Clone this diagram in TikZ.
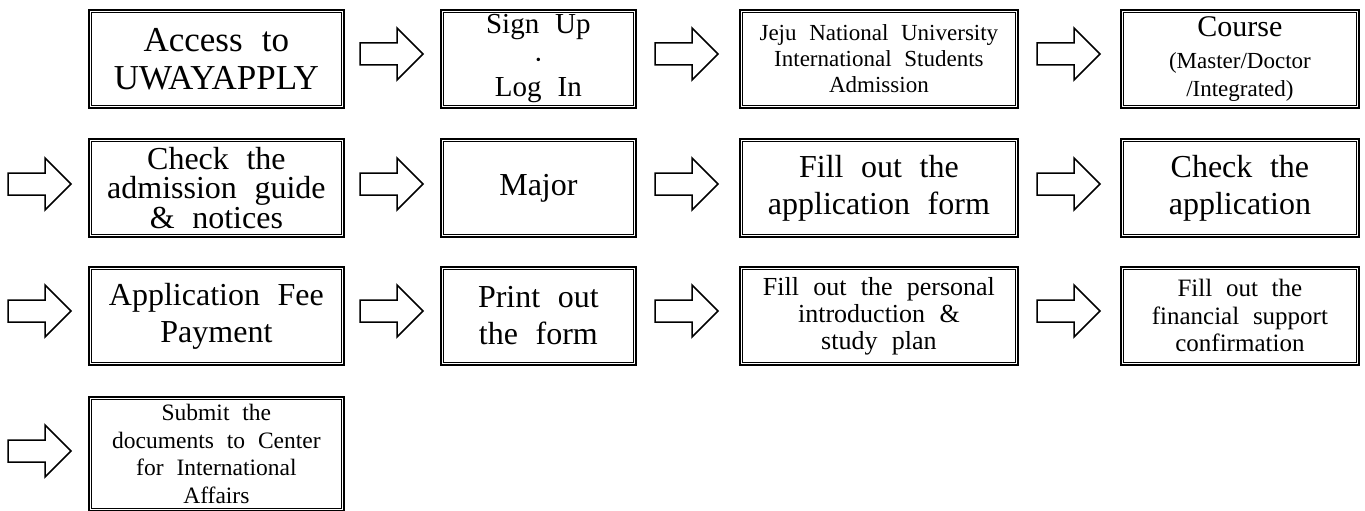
\documentclass[tikz,border=0pt]{standalone}
\usepackage{fontspec}
\setmainfont[WordSpace=2.2]{Liberation Serif}

\tikzset{
  stepbox/.style={draw, line width=1.8pt, inner sep=0pt, align=center, anchor=north west, minimum height=98pt},
  fat arrow/.pic={\draw[line width=1.5pt, line join=miter] (0,-11) -- (37,-11) -- (37,-26) -- (63,0) -- (37,26) -- (37,11) -- (0,11) -- cycle;}
}

\begin{document}
\begin{tikzpicture}[x=1pt, y=-1pt]
      \useasboundingbox (0,0) rectangle (1365,511);
      % row 1
      \node[stepbox, minimum width=255pt, font=\fontsize{35}{38}\selectfont] (b1) at (88,9) {Access to\\UWAYAPPLY};
      \node[stepbox, minimum width=195pt, font=\fontsize{29}{30}\selectfont] (b2) at (440,9) {Sign Up\\\smash{\raisebox{-6pt}{·}}\\[3pt]Log In};
      \node[stepbox, minimum width=278pt, font=\fontsize{23}{26}\selectfont] (b3) at (739,9) {Jeju National University\\International Students\\Admission};
      \node[stepbox, minimum width=238pt, font=\fontsize{23}{28}\selectfont] (b4) at (1120,9) {{\fontsize{30}{30}\selectfont Course}\\[4pt](Master/Doctor\\/Integrated)};
      % row 2
      \node[stepbox, minimum width=255pt, font=\fontsize{32}{29.5}\selectfont] (b5) at (88,138) {Check the\\admission guide\\\& notices};
      \node[stepbox, minimum width=195pt, font=\fontsize{32}{37}\selectfont] (b6) at (440,138) {Major};
      \node[stepbox, minimum width=278pt, font=\fontsize{32}{37}\selectfont] (b7) at (739,138) {Fill out the\\application form};
      \node[stepbox, minimum width=238pt, font=\fontsize{32}{37}\selectfont] (b8) at (1120,138) {Check the\\application};
      % row 3
      \node[stepbox, minimum width=255pt, font=\fontsize{32}{37}\selectfont] (b9) at (88,266) {Application Fee\\Payment};
      \node[stepbox, minimum width=195pt, font=\fontsize{32}{37}\selectfont] (b10) at (440,266) {Print out\\the form};
      \node[stepbox, minimum width=278pt, font=\fontsize{26}{27}\selectfont] (b11) at (739,266) {Fill out the personal\\introduction \&\\study plan};
      \node[stepbox, minimum width=238pt, font=\fontsize{25}{27.5}\selectfont] (b12) at (1120,266) {Fill out the\\financial support\\confirmation};
      % row 4
      \node[stepbox, minimum width=255pt, minimum height=114pt, font=\fontsize{23.5}{27.5}\selectfont] (b13) at (88,396) {Submit the\\documents to Center\\for International\\Affairs};
      % inner lines of the double frames
      \foreach \b in {b1,b2,b3,b4,b5,b6,b7,b8,b9,b10,b11,b12,b13}
        \draw[line width=0.8pt] ([xshift=3pt,yshift=-3pt]\b.north west) rectangle ([xshift=-3pt,yshift=3pt]\b.south east);
      % arrows
      \foreach \x in {360,655,1037}
        \pic at (\x,54) {fat arrow};
      \foreach \x in {8,360,655,1037}
        \pic at (\x,184) {fat arrow};
      \foreach \x in {8,360,655,1037}
        \pic at (\x,311) {fat arrow};
      \pic at (8,451) {fat arrow};
\end{tikzpicture}
\end{document}
